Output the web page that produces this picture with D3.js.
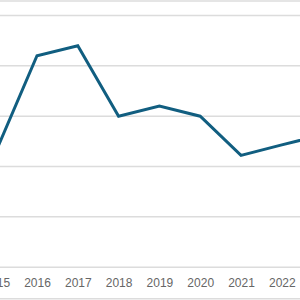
<!DOCTYPE html>
<html>
<head>
<meta charset="utf-8">
<script src="https://cdn.jsdelivr.net/npm/d3@7"></script>
<style>
html,body{margin:0;padding:0;background:#fff;overflow:hidden;}
svg{display:block;}
</style>
</head>
<body>
<script>
const years = [2015, 2016, 2017, 2018, 2019, 2020, 2021, 2022, 2023];
const values = [23.0, 41.9, 43.9, 29.9, 31.9, 29.9, 22.1, 24.2, 26.2];
const yTicks = [0, 10, 20, 30, 40, 50];
const tickLabels = ["2015", "2016", "2017", "2018", "2019", "2020", "2021", "2022", "2023"];

const W = 300, H = 300;
const svg = d3.select("body").append("svg").attr("width", W).attr("height", H);

const x = d3.scaleLinear().domain([2015, 2023]).range([-3.8, -3.8 + 8 * 40.8]);
const y = d3.scaleLinear().domain([0, 50]).range([266.7, 15]);

// frame lines top/bottom
svg.append("line").attr("x1", 0).attr("x2", W).attr("y1", 1).attr("y2", 1)
  .attr("stroke", "#dcdcdc").attr("stroke-width", 1.5);
svg.append("line").attr("x1", 0).attr("x2", W).attr("y1", 298.8).attr("y2", 298.8)
  .attr("stroke", "#dcdcdc").attr("stroke-width", 1.5);

// gridlines
const yAxis = d3.axisRight(y).tickValues(yTicks).tickSize(W).tickFormat("");
const gy = svg.append("g").attr("transform", "translate(0,0)").call(yAxis);
gy.select(".domain").remove();
gy.selectAll(".tick line").attr("stroke", "#dcdcdc").attr("stroke-width", 1.5);

// x axis labels
const xAxis = d3.axisBottom(x).tickValues(years).tickSize(0).tickPadding(0)
  .tickFormat((d, i) => tickLabels[i]);
const gx = svg.append("g").attr("transform", "translate(0,0)").call(xAxis);
gx.select(".domain").remove();
gx.selectAll(".tick text")
  .attr("y", 287.3).attr("dy", null)
  .attr("font-family", "'Liberation Sans', Arial, sans-serif")
  .attr("font-size", 12)
  .attr("fill", "#666");

// line
const line = d3.line().x((d, i) => x(years[i])).y(d => y(d));
svg.append("path").datum(values)
  .attr("d", line)
  .attr("fill", "none")
  .attr("stroke", "#115e80")
  .attr("stroke-width", 3)
  .attr("stroke-linejoin", "miter");
</script>
</body>
</html>
